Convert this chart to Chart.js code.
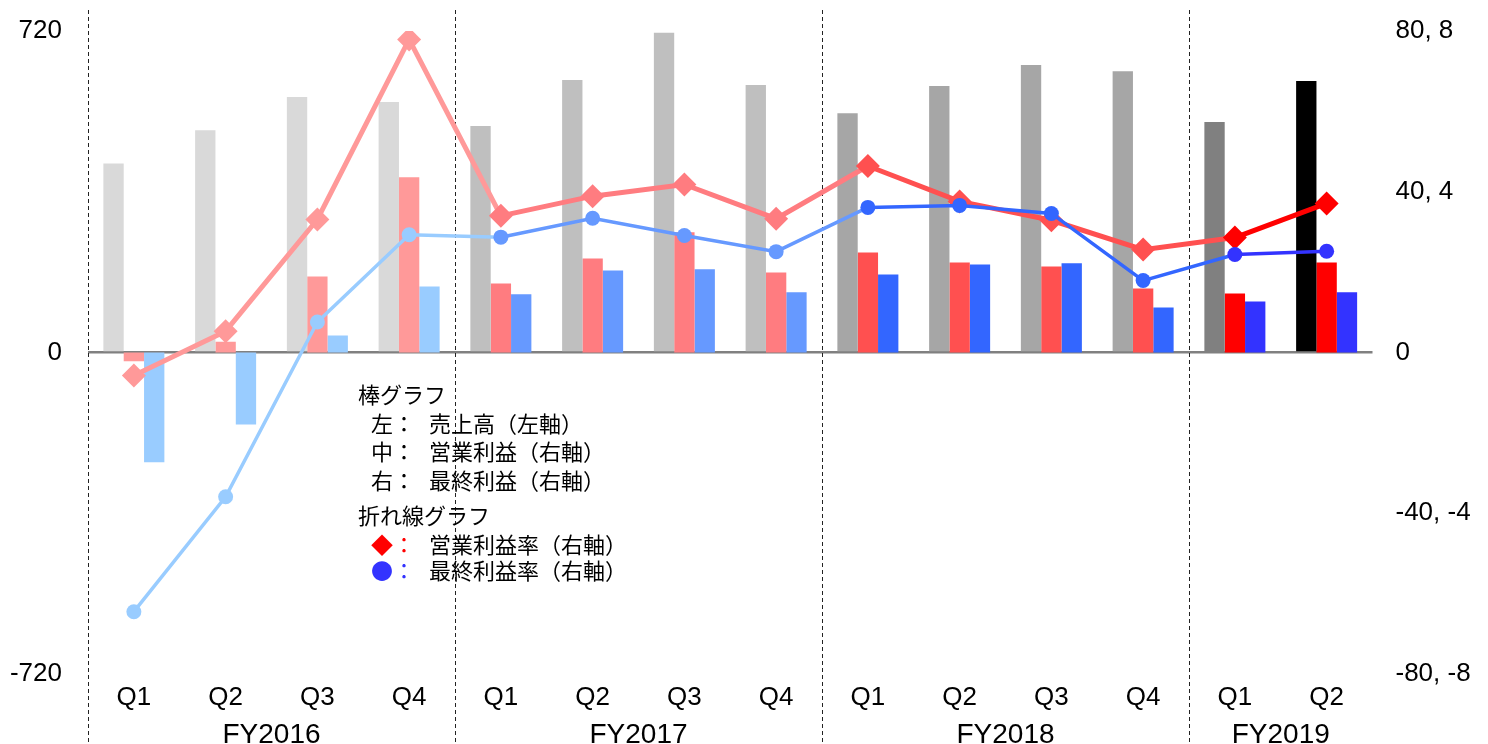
<!DOCTYPE html>
<html>
<head>
<meta charset="utf-8">
<script src="https://cdn.jsdelivr.net/npm/chart.js@4.4.1/dist/chart.umd.min.js"></script>
<style>
body { margin: 0; background: #fff; }
#wrap { position: relative; width: 1488px; height: 744px; }
#legend { position: absolute; left: 0; top: 0; font-family: "Noto Sans CJK JP", sans-serif; font-size: 22px; color: #000; }
#legend div { position: absolute; white-space: nowrap; line-height: 28px; }
</style>
</head>
<body>
<div id="wrap">
  <canvas id="chart"></canvas>
  <div id="legend">
    <div style="left:358px; top:379px">棒グラフ</div>
    <div style="left:371px; top:408px">左：</div><div style="left:429px; top:408px">売上高（左軸）</div>
    <div style="left:371px; top:436px">中：</div><div style="left:429px; top:436px">営業利益（右軸）</div>
    <div style="left:371px; top:465px">右：</div><div style="left:429px; top:465px">最終利益（右軸）</div>
    <div style="left:358px; top:500px">折れ線グラフ</div>
    <div style="left:371px; top:529px; color:#ff0000">◆：</div><div style="left:429px; top:529px">営業利益率（右軸）</div>
    <div style="left:371px; top:555px; color:#3333ff">●：</div><div style="left:429px; top:555px">最終利益率（右軸）</div>
  </div>
</div>
<script>
// data
const quarters = ['Q1','Q2','Q3','Q4','Q1','Q2','Q3','Q4','Q1','Q2','Q3','Q4','Q1','Q2'];
const fiscalYears = ['FY2016','FY2017','FY2018','FY2019'];
const yearOfQuarter = [0,0,0,0,1,1,1,1,2,2,2,2,3,3];
const sales = [423,498,572,561,507,610,716,599,536,597,644,630,516,608];
const operatingProfit = [-2.2,2.7,18.9,43.6,17.2,23.4,29.9,19.9,24.9,22.4,21.4,15.9,14.7,22.4];
const netProfit = [-27.3,-17.9,4.2,16.4,14.5,20.4,20.7,15.0,19.4,21.9,22.2,11.2,12.7,15.0];
const operatingMargin = [-5.7,5.3,33.1,77.9,34.0,38.9,41.8,33.3,46.4,37.6,32.9,25.6,28.6,37.1];
const netMargin = [-64.5,-35.9,7.6,29.3,28.7,33.4,29.1,25.1,36.1,36.6,34.6,17.9,24.4,25.2];
const leftTicks = [-720, 0, 720];
const rightTicks = [-80, -40, 0, 40, 80];
const rightTickLabels = ['-80, -8', '-40, -4', '0', '40, 4', '80, 8'];

// colours, one shade per fiscal year
const grayShades = ['#d9d9d9','#d9d9d9','#d9d9d9','#d9d9d9','#bfbfbf','#bfbfbf','#bfbfbf','#bfbfbf',
                    '#a6a6a6','#a6a6a6','#a6a6a6','#a6a6a6','#808080','#000000'];
const redByYear = ['#ff9999','#ff7c80','#ff5050','#ff0000'];
const blueByYear = ['#99ccff','#6699ff','#3366ff','#3333ff'];
const redShades = yearOfQuarter.map(y => redByYear[y]);
const blueShades = yearOfQuarter.map(y => blueByYear[y]);

// centre of each fiscal year on the category scale
const fyCentres = fiscalYears.map((f, k) => {
    const idx = yearOfQuarter.map((y, i) => y === k ? i : null).filter(i => i !== null);
    return (idx[0] + idx[idx.length - 1]) / 2;
});

const tickFont = { family: '"Liberation Sans", Arial, sans-serif', size: 26 };

const dividers = {
    id: 'dividers',
    beforeDatasetsDraw(chart){
        const x = chart.scales.x, ctx = chart.ctx;
        const xs = [chart.chartArea.left];
        for (let i = 1; i < yearOfQuarter.length; i++) {
            if (yearOfQuarter[i] !== yearOfQuarter[i-1]) xs.push((x.getPixelForValue(i-1) + x.getPixelForValue(i)) / 2);
        }
        ctx.save();
        ctx.strokeStyle = '#222';
        ctx.lineWidth = 1;
        ctx.setLineDash([4, 3]);
        xs.forEach(px => {
            const p = Math.round(px) + 0.5;
            ctx.beginPath();
            ctx.moveTo(p, 10);
            ctx.lineTo(p, chart.height);
            ctx.stroke();
        });
        ctx.restore();
    }
};

// y axes: fixed width, and don't let the tick padding push the plot down
function fitY(width){
    return s => { s.width = width; s.paddingTop = 15; s.paddingBottom = 15; };
}

new Chart(document.getElementById('chart').getContext('2d'), {
    data: {
        labels: quarters,
        datasets: [
            { type: 'bar', label: '売上高', data: sales, yAxisID: 'y', backgroundColor: grayShades, order: 3,
              categoryPercentage: 0.665, barPercentage: 1.0 },
            { type: 'bar', label: '営業利益', data: operatingProfit, yAxisID: 'y2', backgroundColor: redShades, order: 3,
              categoryPercentage: 0.665, barPercentage: 1.0 },
            { type: 'bar', label: '最終利益', data: netProfit, yAxisID: 'y2', backgroundColor: blueShades, order: 3,
              categoryPercentage: 0.665, barPercentage: 1.0 },
            { type: 'line', label: '営業利益率', data: operatingMargin, yAxisID: 'y2', order: 2,
              borderWidth: 5, borderColor: redShades[0], tension: 0,
              segment: { borderColor: c => redShades[c.p0DataIndex] },
              pointStyle: 'rectRot', pointRadius: 12, pointBorderWidth: 0,
              pointBackgroundColor: redShades, pointBorderColor: redShades },
            { type: 'line', label: '最終利益率', data: netMargin, yAxisID: 'y2', order: 1,
              borderWidth: 3.5, borderColor: blueShades[0], tension: 0,
              segment: { borderColor: c => blueShades[c.p0DataIndex] },
              pointStyle: 'circle', pointRadius: 7.5, pointBorderWidth: 0,
              pointBackgroundColor: blueShades, pointBorderColor: blueShades }
        ]
    },
    options: {
        responsive: true,
        maintainAspectRatio: false,
        animation: false,
        devicePixelRatio: 1,
        layout: { padding: { top: 31, left: 0, right: 0, bottom: 0 } },
        plugins: { legend: { display: false }, tooltip: { enabled: false } },
        scales: {
            x: {
                position: 'bottom',
                weight: 0,
                grid: { display: false, drawTicks: false },
                border: { display: false },
                ticks: { color: '#000', font: tickFont, padding: 8, autoSkip: false, maxRotation: 0 },
                afterFit: s => { s.height = 40; }
            },
            fy: {
                type: 'linear',
                position: 'bottom',
                weight: 1,
                min: -0.5,
                max: quarters.length - 0.5,
                grid: { display: false, drawTicks: false },
                border: { display: false },
                afterBuildTicks: s => { s.ticks = fyCentres.map(v => ({ value: v })); },
                ticks: { color: '#000', font: { family: tickFont.family, size: 28 }, padding: 4, autoSkip: false, maxRotation: 0,
                         callback: v => fiscalYears[fyCentres.indexOf(v)] },
                afterFit: s => { s.height = 30; }
            },
            y: {
                position: 'left',
                min: -720, max: 720,
                afterBuildTicks: s => { s.ticks = leftTicks.map(v => ({ value: v })); },
                grid: { drawTicks: false, lineWidth: 2.5, color: c => c.tick && c.tick.value === 0 ? '#808080' : 'rgba(0,0,0,0)' },
                border: { display: false },
                ticks: { color: '#000', font: tickFont, padding: 26 },
                afterFit: fitY(88)
            },
            y2: {
                position: 'right',
                min: -80, max: 80,
                afterBuildTicks: s => { s.ticks = rightTicks.map(v => ({ value: v })); },
                grid: { display: false, drawTicks: false },
                border: { display: false },
                ticks: { color: '#000', font: tickFont, padding: 23,
                         callback: v => rightTickLabels[rightTicks.indexOf(v)] },
                afterFit: fitY(115.5)
            }
        }
    },
    plugins: [dividers]
});
</script>
</body>
</html>
